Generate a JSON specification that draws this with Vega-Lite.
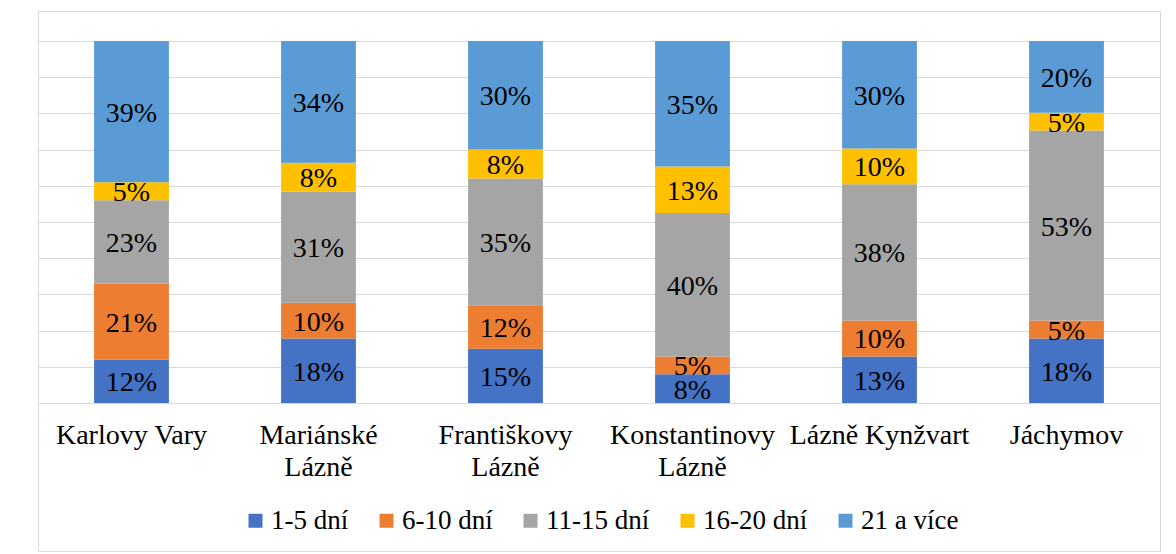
{
  "$schema": "https://vega.github.io/schema/vega-lite/v6.json",
  "width": 1122,
  "height": 540,
  "autosize": {"type": "none"},
  "padding": {"left": 38, "top": 11, "right": 16, "bottom": 3},
  "background": "white",
  "config": {"view": {"stroke": "#d9d9d9", "strokeWidth": 1}, "font": "'Liberation Serif', 'DejaVu Serif', serif"},
  "data": {"values": [
    {"place": "Karlovy Vary", "series": "1-5 dní", "value": 0.12},
    {"place": "Karlovy Vary", "series": "6-10 dní", "value": 0.21},
    {"place": "Karlovy Vary", "series": "11-15 dní", "value": 0.23},
    {"place": "Karlovy Vary", "series": "16-20 dní", "value": 0.05},
    {"place": "Karlovy Vary", "series": "21 a více", "value": 0.39},
    {"place": "Mariánské Lázně", "series": "1-5 dní", "value": 0.18},
    {"place": "Mariánské Lázně", "series": "6-10 dní", "value": 0.10},
    {"place": "Mariánské Lázně", "series": "11-15 dní", "value": 0.31},
    {"place": "Mariánské Lázně", "series": "16-20 dní", "value": 0.08},
    {"place": "Mariánské Lázně", "series": "21 a více", "value": 0.34},
    {"place": "Františkovy Lázně", "series": "1-5 dní", "value": 0.15},
    {"place": "Františkovy Lázně", "series": "6-10 dní", "value": 0.12},
    {"place": "Františkovy Lázně", "series": "11-15 dní", "value": 0.35},
    {"place": "Františkovy Lázně", "series": "16-20 dní", "value": 0.08},
    {"place": "Františkovy Lázně", "series": "21 a více", "value": 0.30},
    {"place": "Konstantinovy Lázně", "series": "1-5 dní", "value": 0.08},
    {"place": "Konstantinovy Lázně", "series": "6-10 dní", "value": 0.05},
    {"place": "Konstantinovy Lázně", "series": "11-15 dní", "value": 0.40},
    {"place": "Konstantinovy Lázně", "series": "16-20 dní", "value": 0.13},
    {"place": "Konstantinovy Lázně", "series": "21 a více", "value": 0.35},
    {"place": "Lázně Kynžvart", "series": "1-5 dní", "value": 0.13},
    {"place": "Lázně Kynžvart", "series": "6-10 dní", "value": 0.10},
    {"place": "Lázně Kynžvart", "series": "11-15 dní", "value": 0.38},
    {"place": "Lázně Kynžvart", "series": "16-20 dní", "value": 0.10},
    {"place": "Lázně Kynžvart", "series": "21 a více", "value": 0.30},
    {"place": "Jáchymov", "series": "1-5 dní", "value": 0.18},
    {"place": "Jáchymov", "series": "6-10 dní", "value": 0.05},
    {"place": "Jáchymov", "series": "11-15 dní", "value": 0.53},
    {"place": "Jáchymov", "series": "16-20 dní", "value": 0.05},
    {"place": "Jáchymov", "series": "21 a více", "value": 0.20}
  ]},
  "transform": [
    {"calculate": "indexof(['1-5 dní','6-10 dní','11-15 dní','16-20 dní','21 a více'], datum.series)", "as": "ord"},
    {"stack": "value", "groupby": ["place"], "sort": [{"field": "ord", "order": "ascending"}], "offset": "normalize", "as": ["v0", "v1"]},
    {"calculate": "(datum.v0 + datum.v1) / 2", "as": "vmid"}
  ],
  "encoding": {
    "x": {
      "field": "place",
      "type": "nominal",
      "sort": ["Karlovy Vary", "Mariánské Lázně", "Františkovy Lázně", "Konstantinovy Lázně", "Lázně Kynžvart", "Jáchymov"],
      "scale": {"paddingInner": 0.6, "paddingOuter": 0.3},
      "axis": {
        "title": null,
        "domain": false,
        "ticks": false,
        "tickSize": 0,
        "grid": false,
        "offset": -148,
        "labelAngle": 0,
        "labelFont": "'Liberation Serif', 'DejaVu Serif', serif",
        "labelFontSize": 28,
        "labelColor": "#000000",
        "labelPadding": 18,
        "labelLineHeight": 32,
        "labelOverlap": false,
        "labelBound": false,
        "labelFlush": false,
        "labelExpr": "indexof(['Mariánské Lázně','Františkovy Lázně','Konstantinovy Lázně'], datum.value) >= 0 ? split(datum.value, ' ') : datum.value"
      }
    }
  },
  "layer": [
    {
      "mark": {"type": "bar"},
      "encoding": {
        "y": {
          "field": "v0",
          "type": "quantitative",
          "scale": {"domain": [-0.40884, 1.08287], "nice": false, "zero": false},
          "axis": {
            "title": null,
            "values": [0, 0.1, 0.2, 0.3, 0.4, 0.5, 0.6, 0.7, 0.8, 0.9, 1.0],
            "grid": true,
            "gridColor": "#d9d9d9",
            "gridWidth": 1,
            "labels": false,
            "ticks": false,
            "domain": false
          }
        },
        "y2": {"field": "v1"},
        "color": {
          "field": "series",
          "type": "nominal",
          "scale": {
            "domain": ["1-5 dní", "6-10 dní", "11-15 dní", "16-20 dní", "21 a více"],
            "range": ["#4472C4", "#ED7D31", "#A5A5A5", "#FFC000", "#5B9BD5"]
          },
          "legend": {
            "orient": "none",
            "legendX": 204,
            "legendY": 496,
            "direction": "horizontal",
            "columns": 5,
            "title": null,
            "symbolType": "square",
            "symbolSize": 196,
            "symbolStrokeWidth": 0,
            "labelFont": "'Liberation Serif', 'DejaVu Serif', serif",
            "labelFontSize": 27,
            "labelColor": "#000000",
            "labelOffset": 2,
            "columnPadding": 24,
            "padding": 0
          }
        }
      }
    },
    {
      "mark": {"type": "text", "font": "'Liberation Serif', 'DejaVu Serif', serif", "fontSize": 28, "color": "#000000", "baseline": "middle", "dy": 2},
      "encoding": {
        "y": {"field": "vmid", "type": "quantitative"},
        "text": {"field": "value", "type": "quantitative", "format": ".0%"}
      }
    }
  ]
}
